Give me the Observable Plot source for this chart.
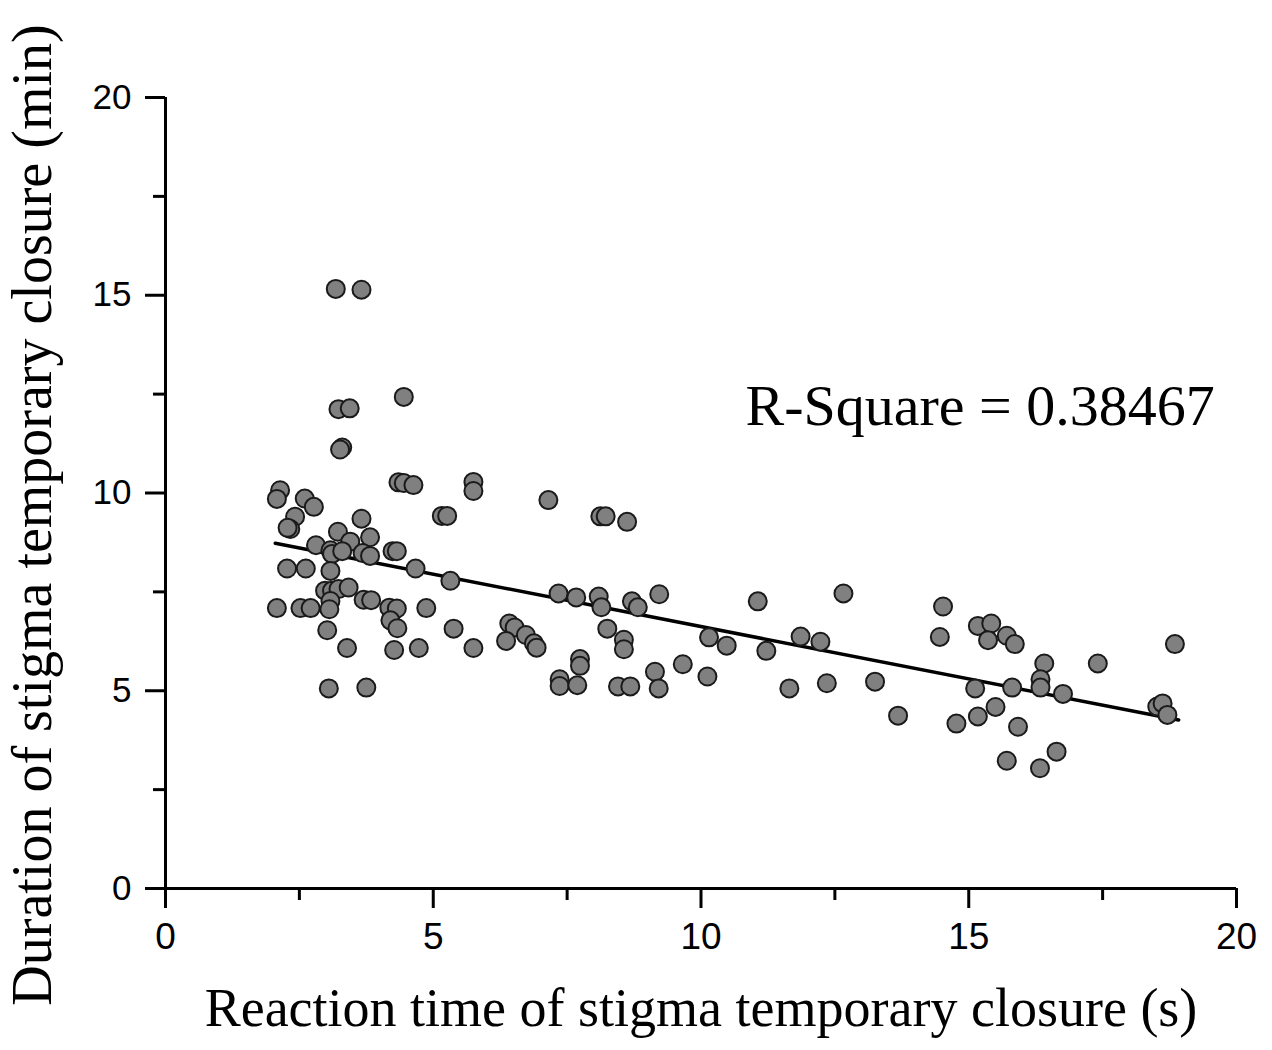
<!DOCTYPE html>
<html>
<head>
<meta charset="utf-8">
<script src="https://cdn.jsdelivr.net/npm/d3@7"></script>
<script src="https://cdn.jsdelivr.net/npm/@observablehq/plot@0.6"></script>
<style>
  body { margin: 0; background: #fff; }
  #chart svg { display: block; }
</style>
</head>
<body>
<div id="chart"></div>
<script>
// Reaction time (s) of stigma temporary closure
const reactionTime = [
  3.18, 3.66, 4.45, 3.23, 3.44, 3.30, 3.26, 4.35, 4.45, 4.63,
  5.75, 5.75, 2.14, 2.08, 2.60, 2.77, 2.42, 3.66, 5.16, 5.26,
  2.33, 2.28, 3.22, 3.82, 3.45, 2.81, 3.08, 3.11, 3.30, 3.68,
  3.82, 4.24, 4.32, 4.67, 5.32, 2.27, 2.62, 3.08, 2.98, 3.11,
  3.23, 3.42, 3.08, 3.70, 3.84, 2.08, 2.52, 2.71, 3.06, 4.18,
  4.32, 4.87, 4.20, 4.33, 3.02, 5.38, 3.39, 4.27, 4.73, 5.75,
  3.05, 3.75, 7.15, 8.12, 8.22, 8.62, 7.34, 7.67, 8.09, 8.14,
  8.71, 8.82, 9.22, 11.06, 8.25, 8.56, 8.56, 6.42, 6.52, 6.73,
  6.88, 6.93, 6.36, 7.74, 7.74, 10.15, 10.48, 11.22, 9.66, 9.14,
  10.12, 7.36, 7.36, 7.69, 8.45, 8.68, 9.21, 12.66, 11.86, 12.23,
  11.65, 12.35, 13.25, 13.68, 14.52, 14.46, 15.17, 15.42, 15.36, 15.71,
  15.86, 16.41, 16.34, 16.34, 17.41, 18.85, 15.12, 15.81, 16.76, 18.52,
  18.62, 18.71, 15.50, 15.17, 14.77, 15.92, 16.64, 15.71, 16.33
];
// Duration (min) of stigma temporary closure
const duration = [
  15.16, 15.14, 12.43, 12.12, 12.14, 11.15, 11.10, 10.27, 10.25, 10.20,
  10.28, 10.05, 10.07, 9.85, 9.86, 9.65, 9.40, 9.35, 9.42, 9.42,
  9.09, 9.12, 9.02, 8.88, 8.77, 8.68, 8.55, 8.46, 8.53, 8.48,
  8.41, 8.53, 8.53, 8.09, 7.78, 8.09, 8.09, 8.03, 7.53, 7.53,
  7.57, 7.61, 7.27, 7.30, 7.29, 7.09, 7.09, 7.09, 7.06, 7.10,
  7.08, 7.09, 6.78, 6.58, 6.53, 6.57, 6.08, 6.03, 6.08, 6.08,
  5.06, 5.08, 9.82, 9.41, 9.41, 9.27, 7.46, 7.36, 7.38, 7.11,
  7.26, 7.11, 7.44, 7.26, 6.57, 6.29, 6.05, 6.70, 6.60, 6.41,
  6.20, 6.09, 6.26, 5.80, 5.63, 6.35, 6.14, 6.01, 5.67, 5.48,
  5.36, 5.29, 5.12, 5.14, 5.11, 5.11, 5.06, 7.46, 6.37, 6.24,
  5.06, 5.19, 5.23, 4.37, 7.13, 6.36, 6.64, 6.70, 6.28, 6.39,
  6.18, 5.69, 5.29, 5.08, 5.69, 6.18, 5.06, 5.08, 4.92, 4.60,
  4.68, 4.39, 4.59, 4.35, 4.17, 4.09, 3.46, 3.23, 3.04
];
// Linear fit line end points
const fitX = [2.05, 18.92];
const fitY = [8.73, 4.26];

const majorTicks = [0, 5, 10, 15, 20];
const minorTicks = [2.5, 7.5, 12.5, 17.5];

const xLabel = "Reaction time of stigma temporary closure (s)";
const yLabel = "Duration of stigma temporary closure (min)";
const annotationText = ["R-Square = 0.38467"];
const annotationX = [10.83];
const annotationY = [12.2];

const points = reactionTime.map((x, i) => ({x, y: duration[i]}));
const fit = fitX.map((x, i) => ({x, y: fitY[i]}));
const annotation = annotationText.map((t, i) => ({t, x: annotationX[i], y: annotationY[i]}));

const serif = "'Liberation Serif', 'Times New Roman', serif";
const sans = "'Liberation Sans', Arial, sans-serif";

const chart = Plot.plot({
  width: 1272,
  height: 1050,
  marginLeft: 165,
  marginRight: 36,
  marginTop: 97,
  marginBottom: 162,
  x: {domain: [0, 20]},
  y: {domain: [0, 20]},
  style: {fontFamily: sans, background: "white", color: "black"},
  marks: [
    Plot.axisX({ticks: majorTicks, tickSize: 20, tickPadding: 14, fontSize: 37, strokeWidth: 3, label: null, tickFormat: d => String(d)}),
    Plot.axisX({ticks: minorTicks, tickSize: 12, strokeWidth: 3, label: null, tickFormat: () => ""}),
    Plot.axisY({ticks: majorTicks, tickSize: 20, tickPadding: 14, fontSize: 35, strokeWidth: 3, label: null, tickFormat: d => String(d)}),
    Plot.axisY({ticks: minorTicks, tickSize: 12, strokeWidth: 3, label: null, tickFormat: () => ""}),
    Plot.ruleY([0], {stroke: "black", strokeWidth: 3}),
    Plot.ruleX([0], {stroke: "black", strokeWidth: 3}),
    Plot.line(fit, {x: "x", y: "y", stroke: "black", strokeWidth: 3.5}),
    Plot.dot(points, {x: "x", y: "y", r: 9, fill: "#808080", stroke: "#1a1a1a", strokeWidth: 2}),
    Plot.text(annotation, {x: "x", y: "y", text: "t", textAnchor: "start", fontSize: 58, fontFamily: serif, fill: "black"}),
    Plot.text([xLabel], {frameAnchor: "bottom", textAnchor: "middle", lineAnchor: "bottom", dy: 137, fontSize: 54, fontFamily: serif, fill: "black"}),
    Plot.text([yLabel], {frameAnchor: "left", textAnchor: "middle", lineAnchor: "middle", dx: -132, dy: 22, rotate: -90, fontSize: 56, fontFamily: serif, fill: "black"})
  ]
});
document.getElementById("chart").appendChild(chart);
</script>
</body>
</html>
